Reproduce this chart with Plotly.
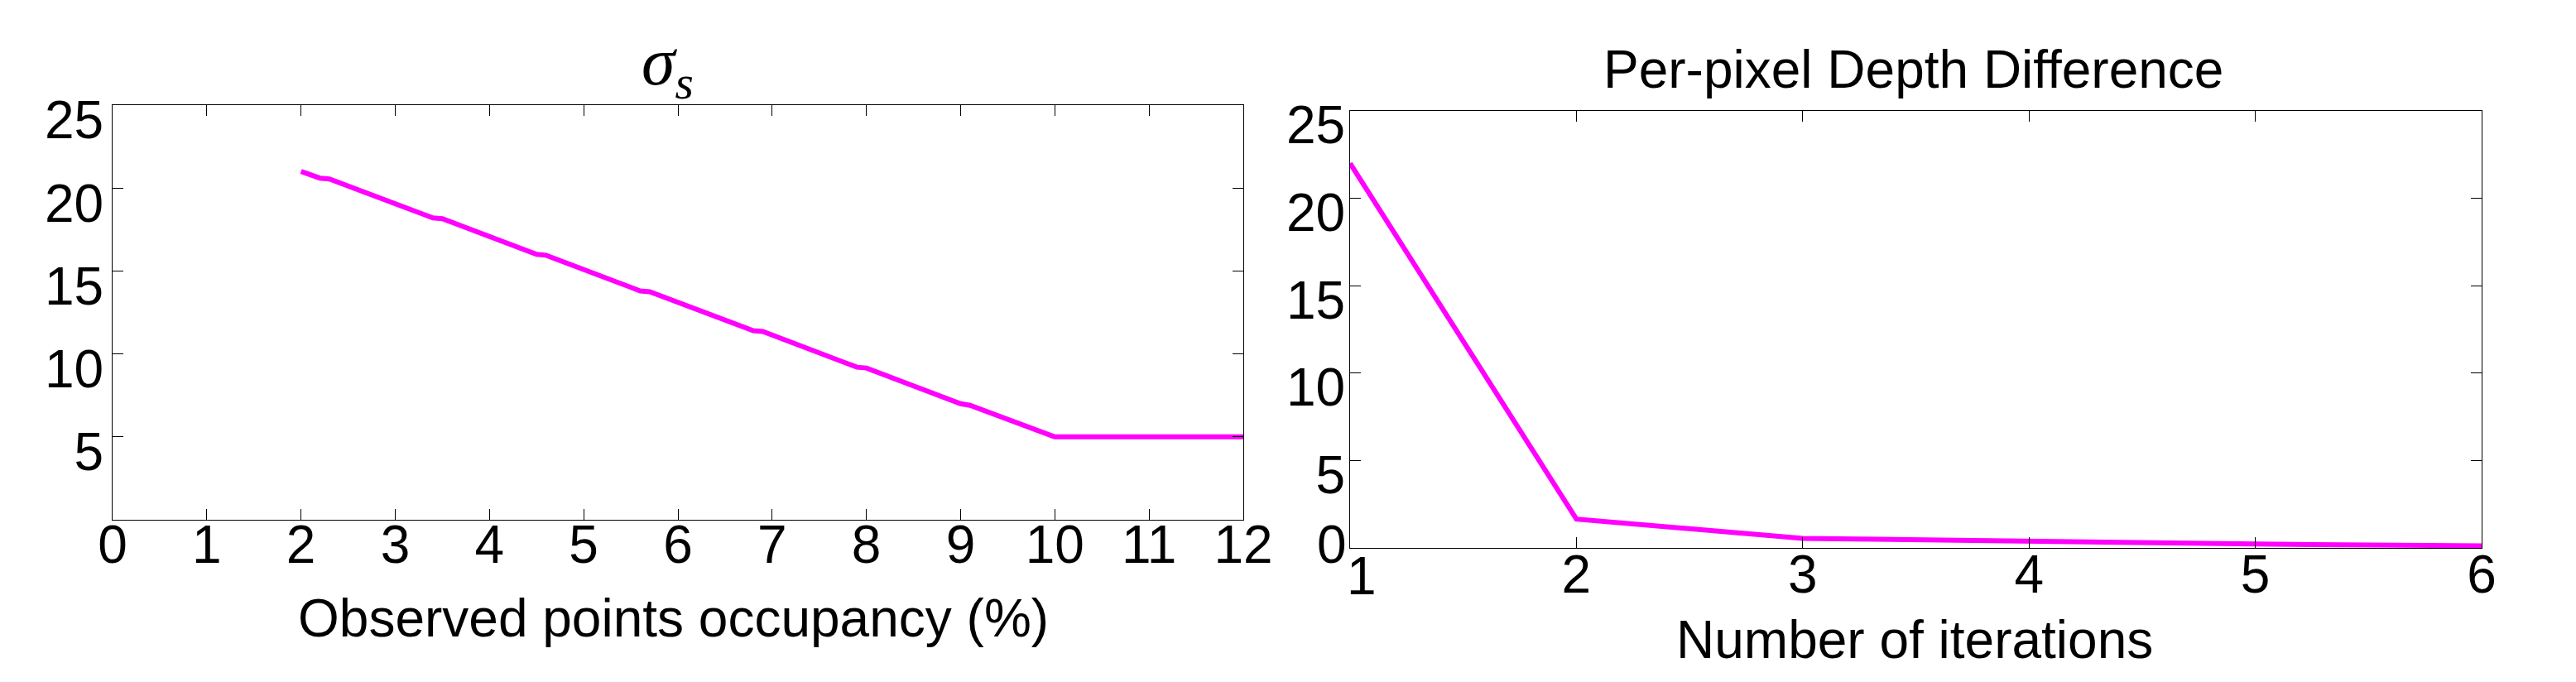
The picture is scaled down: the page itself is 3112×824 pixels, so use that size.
import plotly.graph_objects as go

# ---------------- data ----------------
occ_x = [2.0, 2.2, 2.3, 3.4, 3.5, 4.5, 4.6, 5.6, 5.7, 6.8, 6.9, 7.9, 8.0, 9.0, 9.1, 10.0, 12.0]
sigma_s = [21.0, 20.6, 20.55, 18.2, 18.15, 16.0, 15.95, 13.8, 13.75, 11.4, 11.35, 9.2, 9.15, 7.0, 6.9, 5.0, 5.0]

iter_x = [1, 2, 3, 4, 5, 6]
depth_diff = [22.0, 1.65, 0.55, 0.35, 0.22, 0.12]

left_xticks = [0, 1, 2, 3, 4, 5, 6, 7, 8, 9, 10, 11, 12]
left_yticks = [5, 10, 15, 20, 25]
right_xticks = [1, 2, 3, 4, 5, 6]
right_xhalf = [1.5, 2.5, 3.5, 4.5, 5.5]
right_yticks = [0, 5, 10, 15, 20, 25]

left_title = "<i>σ</i><sub><i>s</i></sub>"
right_title = "Per-pixel Depth Difference"
left_xlabel = "Observed points occupancy (%)"
right_xlabel = "Number of iterations"

# ---------------- layout helpers ----------------
W, H = 3112, 824
FONT = "Liberation Sans, Arial, Helvetica, sans-serif"
SERIF = "Liberation Serif, Times New Roman, serif"
MAGENTA = "#FF00FF"


def fx(p):
    return p / W


def fy(p):
    return 1 - p / H


axis_common = dict(
    showline=True, linecolor="black", linewidth=1, mirror="ticks",
    ticks="inside", ticklen=13, tickwidth=1, tickcolor="black",
    showgrid=False, zeroline=False, automargin=False,
    tickfont=dict(family=FONT, size=64, color="black"),
)

fig = go.Figure()
fig.add_trace(go.Scatter(x=occ_x, y=sigma_s, mode="lines",
                         line=dict(color=MAGENTA, width=6),
                         xaxis="x", yaxis="y", showlegend=False))
fig.add_trace(go.Scatter(x=iter_x, y=depth_diff, mode="lines",
                         line=dict(color=MAGENTA, width=6),
                         xaxis="x2", yaxis="y2", showlegend=False))

fig.update_layout(
    template="none",
    width=W, height=H,
    margin=dict(l=0, r=0, t=0, b=0, pad=0),
    paper_bgcolor="white", plot_bgcolor="white",
    showlegend=False,
    xaxis=dict(axis_common, domain=[fx(128), fx(1494)], range=[0, 12],
               tickvals=left_xticks, ticktext=[str(v) for v in left_xticks],
               anchor="y", ticklabelstandoff=-26),
    yaxis=dict(axis_common, domain=[fy(620), fy(119)], range=[0, 25],
               tickvals=left_yticks, ticktext=[str(v) for v in left_yticks],
               anchor="x", ticklabelshift=18, ticklabelstandoff=-3),
    xaxis2=dict(axis_common, domain=[fx(1623), fx(2990)], range=[1, 6],
                tickvals=right_xticks[1:],
                ticktext=[str(v) for v in right_xticks[1:]],
                anchor="y2", ticklabelstandoff=-24),
    xaxis3=dict(overlaying="x2", anchor="y2", side="top", range=[1, 6],
                tickvals=right_xhalf,
                ticks="inside", ticklen=13, tickwidth=1, tickcolor="black",
                showline=False, showgrid=False, zeroline=False,
                showticklabels=False, automargin=False),
    yaxis2=dict(axis_common, domain=[fy(654), fy(126)], range=[0, 25],
                tickvals=right_yticks[1:],
                ticktext=[str(v) for v in right_yticks[1:]],
                anchor="x2", ticklabelshift=17, ticklabelstandoff=-8),
)

ann = []
# titles
ann.append(dict(text=left_title, xref="paper", yref="paper",
                x=fx(798), y=fy(72), xanchor="center", yanchor="middle",
                showarrow=False, font=dict(family=SERIF, size=82, color="black")))
ann.append(dict(text=right_title, xref="paper", yref="paper",
                x=fx(2303), y=fy(76), xanchor="center", yanchor="middle",
                showarrow=False, font=dict(family=FONT, size=64, color="black")))
# axis titles
ann.append(dict(text=left_xlabel, xref="paper", yref="paper",
                x=fx(806), y=fy(739), xanchor="center", yanchor="middle",
                showarrow=False, font=dict(family=FONT, size=64, color="black")))
ann.append(dict(text=right_xlabel, xref="paper", yref="paper",
                x=fx(2305), y=fy(765), xanchor="center", yanchor="middle",
                showarrow=False, font=dict(family=FONT, size=64, color="black")))
# individually placed tick labels of the right panel
ann.append(dict(text=str(right_yticks[0]), xref="paper", yref="paper",
                x=fx(1621), y=fy(650), xanchor="right", yanchor="middle",
                showarrow=False, font=dict(family=FONT, size=64, color="black")))
ann.append(dict(text=str(right_xticks[0]), xref="paper", yref="paper",
                x=fx(1637), y=fy(688), xanchor="center", yanchor="middle",
                showarrow=False, font=dict(family=FONT, size=64, color="black")))
fig.update_layout(annotations=ann)

fig.write_html("out.html")
